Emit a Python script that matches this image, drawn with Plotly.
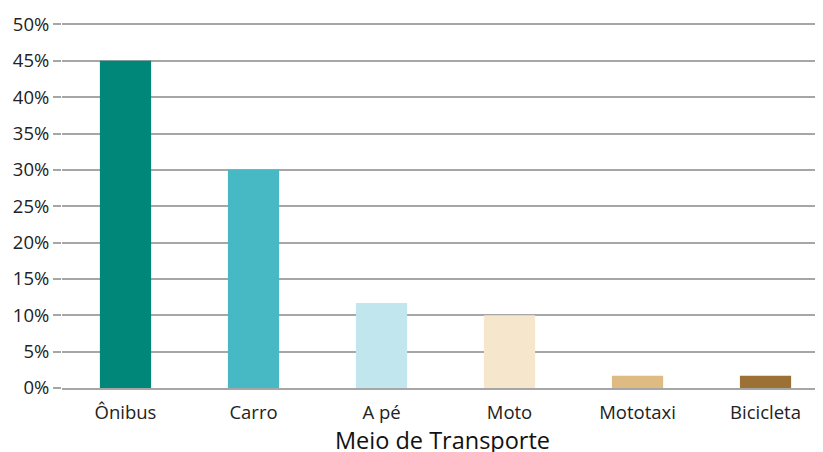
import plotly.graph_objects as go

categories = ["Ônibus", "Carro", "A pé", "Moto", "Mototaxi", "Bicicleta"]
values = [45, 30, 11.7, 10, 1.7, 1.7]
colors = ["#01877A", "#47B9C4", "#C2E6EE", "#F6E6CC", "#DDBB83", "#9C7136"]
y_ticks = [0, 5, 10, 15, 20, 25, 30, 35, 40, 45, 50]
y_tick_labels = [f"{v}%" for v in y_ticks]

fig = go.Figure(go.Bar(
    x=categories, y=values, marker=dict(color=colors, line=dict(width=0)),
    width=0.4,
))

font_family = "Open Sans, Noto Sans, sans-serif"
fig.update_layout(
    width=823, height=452,
    margin=dict(l=54, r=8, t=15, b=72),
    plot_bgcolor="white", paper_bgcolor="white",
    showlegend=False,
    font=dict(family=font_family, color="#222222"),
    xaxis=dict(
        range=[-0.496, 5.449], showgrid=False, automargin=False,
        showline=True, linecolor="#a6a6a6", linewidth=2,
        tickfont=dict(size=18.5, color="#222222"),
        title=dict(text="Meio de Transporte", font=dict(size=23.5, color="#111111"), standoff=8),
        ticks="outside", ticklen=7, tickcolor="rgba(0,0,0,0)",
    ),
    yaxis=dict(
        range=[0, 50.2], tickvals=y_ticks, ticktext=y_tick_labels,
        showgrid=True, gridcolor="#a6a6a6", gridwidth=1.5, automargin=False,
        zeroline=False, ticks="outside", ticklen=8, tickcolor="#a6a6a6", tickwidth=1.5,
        tickfont=dict(size=18.5, color="#222222"),
    ),
)

fig.write_html("out.html")
